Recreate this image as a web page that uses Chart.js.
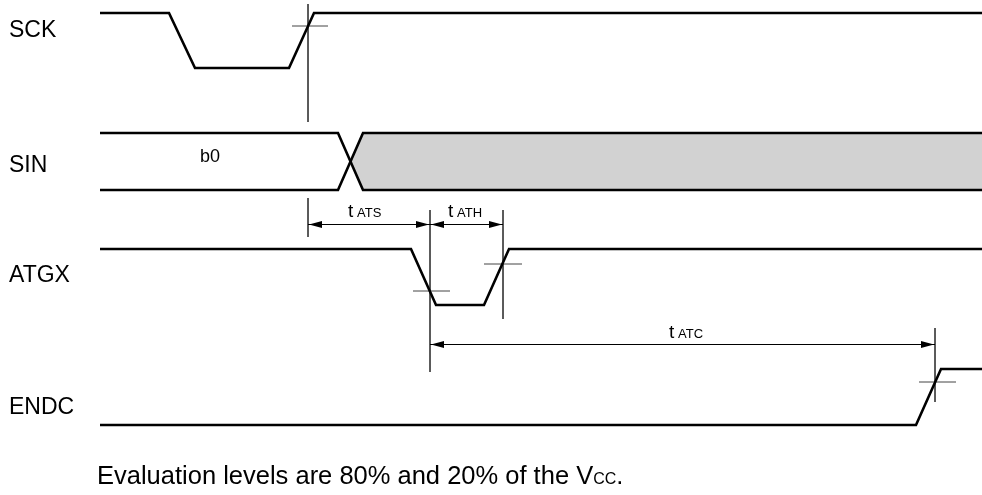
<!DOCTYPE html>
<html>
<head>
<meta charset="utf-8">
<script src="https://cdn.jsdelivr.net/npm/chart.js@4.4.1/dist/chart.umd.min.js"></script>
<style>
  html, body { margin: 0; padding: 0; background: #fff; }
  canvas { display: block; }
</style>
</head>
<body>
<canvas id="timing" width="982" height="495"></canvas>
<script>
// waveform points (time, level)
const sckT = [100, 169, 195, 289, 314, 982];
const sckL = [13, 13, 68, 68, 13, 13];

const sinAT = [100, 338, 363, 982];
const sinAL = [133, 133, 190, 190];
const sinBT = [100, 338, 363, 982];
const sinBL = [190, 190, 133, 133];
const sinFillT = [351, 363, 982, 982, 363, 351];
const sinFillL = [161.5, 133, 133, 190, 190, 161.5];

const atgxT = [100, 411, 436, 484, 509, 982];
const atgxL = [249, 249, 305, 305, 249, 249];

const endcT = [100, 916, 941, 982];
const endcL = [425, 425, 369, 369];

// reference lines: [x1, y1, x2, y2]
const guides = [
  [308, 4, 308, 122],
  [292, 26, 328, 26],
  [308, 198, 308, 237],
  [430, 210, 430, 372],
  [503, 210, 503, 319],
  [413, 291, 450, 291],
  [484, 264, 522, 264],
  [935, 328, 935, 402],
  [919, 382, 956, 382]
];

// dimension arrows: from, to, level, label, label position
const arrows = [
  { from: 308, to: 430, at: 224, sub: 'ATS', lx: 348, ly: 217 },
  { from: 430, to: 503, at: 224, sub: 'ATH', lx: 448, ly: 217 },
  { from: 430, to: 935, at: 344, sub: 'ATC', lx: 669, ly: 338 }
];

const signals = ['SCK', 'SIN', 'ATGX', 'ENDC'];
const signalY = [37, 172, 282, 414];

const toPts = (t, l) => t.map((v, i) => ({ x: v, y: l[i] }));

const wave = (t, l) => ({
  data: toPts(t, l),
  showLine: true,
  borderColor: '#000',
  borderWidth: 2.6,
  pointRadius: 0,
  fill: false,
  order: 0
});

const guideData = [];
guides.forEach(g => {
  guideData.push({ x: g[0], y: g[1] }, { x: g[2], y: g[3] }, { x: g[2], y: null });
});

const textPlugin = {
  id: 'timingText',
  afterDatasetsDraw(chart) {
    const ctx = chart.ctx;
    const sx = chart.scales.x, sy = chart.scales.y;
    const px = v => sx.getPixelForValue(v);
    const py = v => sy.getPixelForValue(v);
    ctx.save();
    ctx.fillStyle = '#000';
    ctx.textBaseline = 'alphabetic';
    ctx.textAlign = 'left';

    ctx.font = '23px "Liberation Sans", Arial, sans-serif';
    signals.forEach((s, i) => ctx.fillText(s, 9, py(signalY[i])));

    ctx.font = '18px "Liberation Sans", Arial, sans-serif';
    ctx.fillText('b0', px(200), py(162));

    // arrows
    ctx.strokeStyle = '#000';
    ctx.lineWidth = 1;
    arrows.forEach(a => {
      const x1 = px(a.from), x2 = px(a.to), y = Math.round(py(a.at)) + 0.5;
      ctx.beginPath();
      ctx.moveTo(x1, y);
      ctx.lineTo(x2, y);
      ctx.stroke();
      [[x1, 1], [x2, -1]].forEach(([x, d]) => {
        ctx.beginPath();
        ctx.moveTo(x + d * 1, y);
        ctx.lineTo(x + d * 14, y - 3.5);
        ctx.lineTo(x + d * 14, y + 3.5);
        ctx.closePath();
        ctx.fill();
      });
      ctx.font = '19px "Liberation Sans", Arial, sans-serif';
      ctx.fillText('t', px(a.lx), py(a.ly));
      ctx.font = '13px "Liberation Sans", Arial, sans-serif';
      ctx.fillText(a.sub, px(a.lx) + 9, py(a.ly));
    });

    // note
    const big = '25.5px "Liberation Sans", Arial, sans-serif';
    ctx.font = big;
    const note = 'Evaluation levels are 80% and 20% of the V';
    ctx.fillText(note, 97, 484);
    const w = ctx.measureText(note).width;
    ctx.font = '16px "Liberation Sans", Arial, sans-serif';
    ctx.fillText('CC', 97 + w, 484);
    const w2 = ctx.measureText('CC').width;
    ctx.font = big;
    ctx.fillText('.', 97 + w + w2, 484);
    ctx.restore();
  }
};

new Chart(document.getElementById('timing'), {
  type: 'scatter',
  data: {
    datasets: [
      {
        data: toPts(sinFillT, sinFillL),
        showLine: true,
        borderWidth: 0,
        borderColor: 'rgba(0,0,0,0)',
        backgroundColor: '#d2d2d2',
        fill: 'shape',
        pointRadius: 0,
        order: 10
      },
      {
        data: guideData,
        showLine: true,
        spanGaps: false,
        borderColor: '#444',
        borderWidth: 1,
        pointRadius: 0,
        order: 5
      },
      wave(sckT, sckL),
      wave(sinAT, sinAL),
      wave(sinBT, sinBL),
      wave(atgxT, atgxL),
      wave(endcT, endcL)
    ]
  },
  options: {
    responsive: false,
    animation: false,
    layout: { padding: 0 },
    plugins: { legend: { display: false }, tooltip: { enabled: false } },
    scales: {
      x: { type: 'linear', min: 0, max: 982, display: false },
      y: { type: 'linear', min: 0, max: 495, reverse: true, display: false }
    }
  },
  plugins: [textPlugin]
});
</script>
</body>
</html>
